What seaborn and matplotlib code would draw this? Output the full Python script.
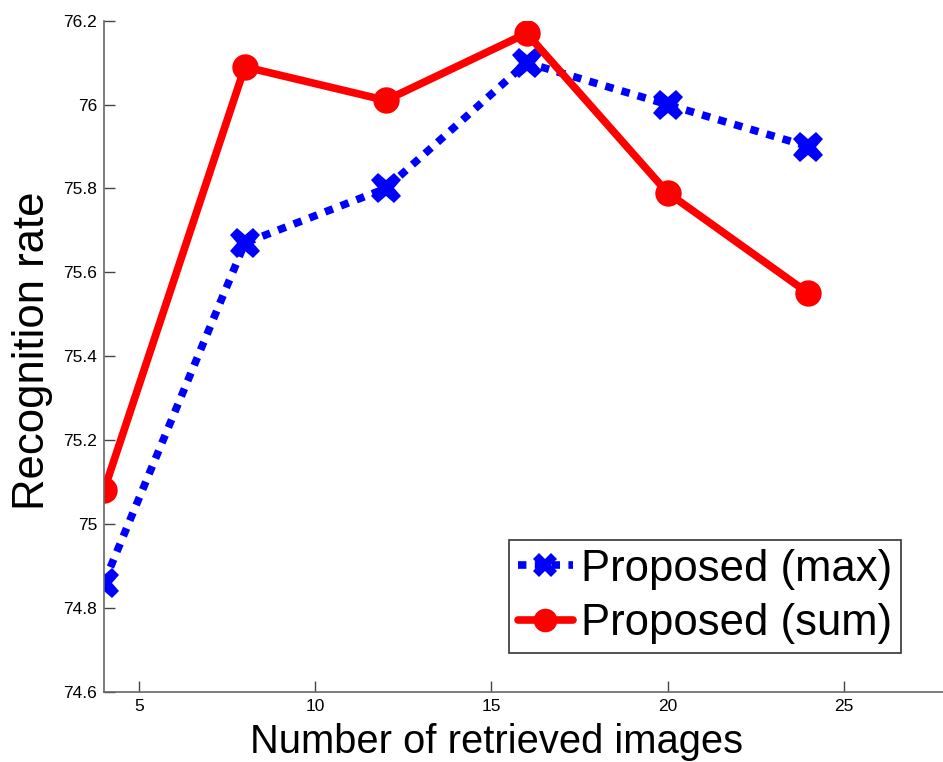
import matplotlib
matplotlib.use("Agg")
import matplotlib.pyplot as plt
import seaborn as sns
import pandas as pd

num_images = [4, 8, 12, 16, 20, 24]
rate_max = [74.86, 75.67, 75.80, 76.10, 76.00, 75.90]
rate_sum = [75.08, 76.09, 76.01, 76.17, 75.79, 75.55]
label_max = "Proposed (max)"
label_sum = "Proposed (sum)"
x_ticks = [5, 10, 15, 20, 25]
y_ticks = [74.6, 74.8, 75.0, 75.2, 75.4, 75.6, 75.8, 76.0, 76.2]
y_tick_labels = ["74.6", "74.8", "75", "75.2", "75.4", "75.6", "75.8", "76", "76.2"]

sns.set_style("white")
plt.rcParams['font.family'] = ['Liberation Sans', 'DejaVu Sans']
plt.rcParams['text.color'] = 'black'
plt.rcParams['axes.labelcolor'] = 'black'

W, H = 943, 762
fig = plt.figure(figsize=(W / 100, H / 100), dpi=100)
ax_w = (28 - 4) * 35.22
ax = fig.add_axes([104 / W, (H - 691.7) / H, ax_w / W, 671 / H])

df_max = pd.DataFrame({"x": num_images, "y": rate_max})
df_sum = pd.DataFrame({"x": num_images, "y": rate_sum})

sns.lineplot(data=df_max, x="x", y="y", ax=ax, color="#0000ff", lw=5.5,
             marker="X", markersize=22, markeredgewidth=0, label=label_max)
ax.lines[-1].set_dashes([1.1, 1.1])
ax.lines[-1].set_dash_capstyle("butt")
sns.lineplot(data=df_sum, x="x", y="y", ax=ax, color="#ff0000", lw=5.5,
             marker="o", markersize=19, markeredgewidth=0, label=label_sum)

ax.set_xlim(4, 28)
ax.set_ylim(74.6, 76.2)
ax.set_xticks(x_ticks)
ax.set_xticklabels([str(t) for t in x_ticks])
ax.set_yticks(y_ticks)
ax.set_yticklabels(y_tick_labels)
ax.tick_params(bottom=True, left=True, direction="in", length=8, width=1,
               labelsize=12.5, labelcolor="black", color="#444444", pad=5)
for side in ["top", "right"]:
    ax.spines[side].set_visible(False)
for side in ["left", "bottom"]:
    ax.spines[side].set_color("#666666")
    ax.spines[side].set_linewidth(1.2)

ax.set_xlabel("Number of retrieved images", fontsize=28.7)
ax.xaxis.set_label_coords((497 - 104) / ax_w, -0.046)
ax.xaxis.label.set_va("top")
ax.set_ylabel("Recognition rate", fontsize=31.4)
ax.yaxis.set_label_coords(-0.060, (691.7 - 351) / 671)

leg = ax.legend(loc="upper left", bbox_to_anchor=(509 / W, (H - 540) / H),
                bbox_transform=fig.transFigure, fontsize=31.4, frameon=True,
                fancybox=False, handlelength=1.26, handletextpad=0.2,
                borderpad=0.2, labelspacing=0.3, borderaxespad=0)
leg.get_frame().set_edgecolor("black")
leg.get_frame().set_linewidth(1.2)
for h in leg.legend_handles:
    h.set_markersize(17)

fig.savefig("out.png", dpi=100)
